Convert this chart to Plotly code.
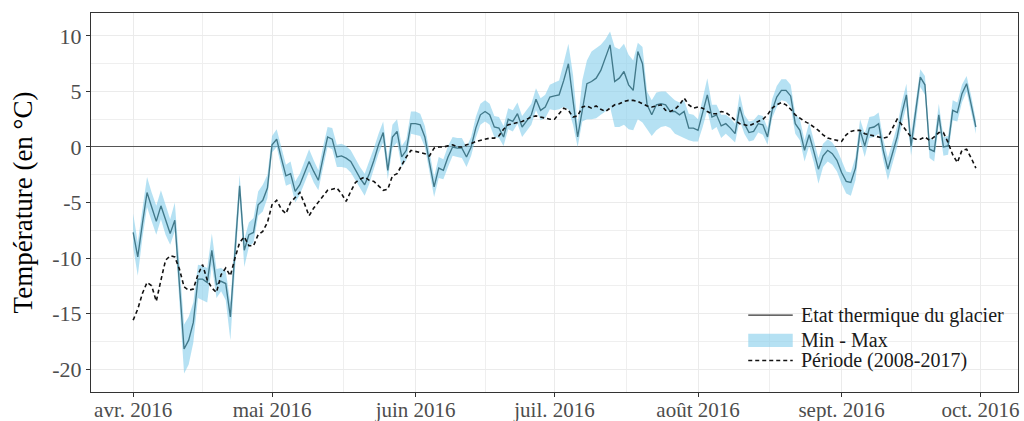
import pandas as pd
import plotly.graph_objects as go

# Daily series, 1 April -> 30 September 2016
start = "2016-04-01"
n_days = 183

temp_glacier = [
    -7.7, -9.9, -6.9, -4.1, -5.4, -6.7, -5.3, -6.6, -7.8, -6.6,
    -12.4, -18.2, -17.4, -15.8, -11.9, -11.9, -12.2, -9.3, -12.4, -12.1,
    -12.3, -15.3, -9.4, -3.5, -9.3, -7.9, -7.7, -5.2, -4.8, -3.7,
    0.2, 0.7, -1.0, -2.6, -2.4, -4.0, -3.4, -2.3, -1.3, -2.2,
    -3.0, -1.0, 0.9, 0.7, -0.9, -0.8, -1.0, -1.3, -2.1, -2.8,
    -3.4, -2.4, -1.2, 0.2, 1.3, -2.1, 0.9, 1.4, -0.9, -0.3,
    2.1, 2.1, 2.0, 0.9, -1.4, -3.6, -1.9, -2.1, -0.9, 0.0,
    -0.1, -0.1, -0.9, 0.0, 1.7, 2.9, 3.2, 2.9, 1.8, 1.7,
    0.9, 2.5, 2.3, 3.0, 1.8, 2.3, 2.9, 4.3, 3.3, 3.6,
    4.5, 4.6, 4.7, 6.0, 7.5, 4.2, 0.9, 3.3, 5.7, 5.9,
    6.2, 6.9, 8.1, 9.2, 5.9, 6.2, 6.8, 5.6, 5.1, 8.6,
    7.5, 3.8, 2.9, 3.8, 3.9, 3.8, 3.2, 3.2, 2.9, 3.2,
    1.7, 1.7, 1.5, 3.1, 4.7, 2.7, 2.9, 1.9, 2.1, 1.7,
    1.2, 3.6, 2.1, 1.3, 1.4, 2.1, 2.0, 0.9, 3.3, 4.5,
    5.1, 5.1, 4.6, 2.1, 1.5, -0.3, 1.1, -0.4, -2.0, -0.8,
    -0.3, -0.6, -1.2, -2.3, -3.1, -3.2, -1.9, 1.5, 0.1, 1.7,
    1.8, 2.1, -0.3, -2.0, -0.6, 0.9, 3.0, 4.7, 0.1, 3.0,
    6.3, 5.6, -0.2, -0.4, 2.9, 0.0, 0.1, 3.3, 3.1, 4.8,
    5.7, 3.8, 1.8,
]

temp_max = [
    -6.0, -8.6, -5.6, -2.7, -4.1, -5.3, -3.9, -5.2, -6.5, -5.0,
    -10.8, -16.0, -15.3, -14.0, -10.6, -10.7, -10.9, -7.8, -11.0, -10.9,
    -11.2, -14.0, -8.0, -2.5, -8.3, -6.8, -6.4, -4.0, -3.4, -2.5,
    1.0, 1.6, 0.0, -1.6, -1.3, -3.1, -2.4, -1.2, -0.2, -1.2,
    -2.1, 0.0, 1.8, 1.7, 0.2, 0.3, 0.1, -0.3, -1.1, -1.8,
    -2.4, -1.3, -0.1, 1.2, 2.3, -1.1, 2.0, 2.5, 0.1, 0.7,
    3.2, 3.2, 3.0, 1.9, -0.4, -2.7, -0.9, -1.1, 0.1, 0.9,
    0.8, 0.8, 0.0, 0.9, 2.7, 3.9, 4.2, 3.9, 2.8, 2.7,
    1.9, 3.5, 3.3, 4.0, 2.8, 3.3, 3.9, 5.3, 4.4, 4.7,
    5.6, 5.8, 6.0, 7.6, 9.3, 6.5, 2.0, 6.0, 7.8, 8.6,
    8.9, 9.2, 9.7, 10.4, 9.0, 8.8, 9.3, 8.3, 7.8, 9.4,
    9.0, 5.0, 4.2, 4.9, 5.0, 5.0, 4.6, 4.2, 4.0, 4.2,
    3.0, 2.9, 2.5, 4.3, 6.2, 3.8, 3.8, 2.9, 2.9, 2.6,
    2.1, 4.8, 2.9, 2.3, 2.4, 2.9, 2.8, 1.7, 4.3, 5.5,
    6.1, 6.1, 5.6, 3.0, 2.5, 0.6, 2.2, 0.6, -1.0, 0.3,
    0.7, 0.4, -0.2, -1.2, -2.2, -2.3, -0.9, 2.5, 1.2, 2.7,
    2.8, 3.1, 0.7, -1.0, 0.4, 1.9, 4.0, 5.7, 1.1, 4.0,
    7.0, 6.4, 0.8, 0.6, 3.9, 0.9, 1.0, 4.2, 4.0, 5.6,
    6.4, 4.6, 2.4,
]

temp_min = [
    -9.0, -11.6, -8.2, -5.4, -6.7, -7.9, -6.5, -7.9, -8.8, -7.6,
    -14.0, -20.4, -19.6, -17.6, -13.6, -13.8, -14.0, -10.6, -13.6, -13.0,
    -13.8, -17.4, -11.0, -4.6, -10.8, -9.0, -8.6, -6.2, -5.8, -4.6,
    -0.5, 0.0, -1.8, -3.5, -3.3, -5.0, -4.3, -3.2, -2.2, -3.2,
    -3.9, -1.9, 0.0, -0.2, -1.8, -1.8, -1.9, -2.3, -3.0, -3.7,
    -4.4, -3.3, -2.0, -0.6, 0.4, -2.9, -0.1, 0.4, -1.8, -1.2,
    1.2, 1.1, 1.0, 0.0, -2.4, -4.5, -2.8, -2.9, -1.8, -0.8,
    -0.9, -1.0, -1.8, -0.8, 0.8, 2.0, 2.3, 2.0, 0.9, 0.8,
    0.1, 1.6, 1.4, 2.1, 0.9, 1.4, 2.0, 3.3, 2.4, 2.6,
    3.4, 3.3, 3.4, 3.6, 3.4, 2.0, 0.0, 2.3, 2.5, 2.5,
    2.6, 2.9, 3.2, 3.6, 1.8, 1.8, 2.0, 1.6, 1.5, 2.5,
    2.2, 1.6, 1.0, 1.5, 1.8, 1.9, 1.7, 1.2, 1.0, 0.8,
    0.6, 0.5, 0.5, 1.8, 3.3, 1.5, 1.8, 0.8, 1.2, 0.8,
    0.4, 2.4, 1.2, 0.5, 0.6, 1.3, 1.1, 0.2, 2.6, 3.6,
    4.2, 4.1, 3.6, 1.2, 0.6, -1.3, 0.1, -1.4, -3.3, -1.8,
    -1.3, -1.6, -2.2, -3.3, -4.2, -4.4, -3.0, 0.6, -0.9, 0.8,
    0.9, 1.2, -1.2, -3.0, -1.5, 0.0, 2.0, 3.7, -0.8, 2.0,
    5.4, 4.7, -1.0, -1.3, 2.0, -0.8, -0.7, 2.4, 2.3, 4.0,
    5.0, 3.0, 1.2,
]

temp_periode = [
    -15.6, -14.6, -13.2, -12.2, -12.5, -13.9, -12.0, -10.2, -9.8, -9.9,
    -11.0, -12.6, -12.9, -12.8, -11.5, -10.6, -12.0, -12.7, -13.1, -11.5,
    -10.9, -11.6, -10.0, -8.6, -8.1, -8.9, -8.9, -7.9, -7.6, -6.8,
    -5.2, -4.8, -5.6, -6.0, -5.0, -4.5, -4.1, -5.1, -6.2, -5.5,
    -5.0, -4.5, -3.9, -3.8, -3.7, -4.2, -4.9, -4.0, -3.2, -2.9,
    -2.7, -3.0, -3.1, -3.5, -3.9, -3.8, -2.6, -2.4, -1.6, -0.9,
    -0.3, -0.4, -0.5, -0.6, -0.8, -0.1, 0.0, 0.0, 0.1, 0.2,
    0.0, 0.0, 0.2, 0.3, 0.5, 0.6, 0.7, 0.8, 0.8, 1.0,
    1.6, 2.0, 2.1, 2.2, 2.3, 2.5, 2.7, 2.8, 2.7, 2.6,
    2.5, 2.5, 3.0, 3.5, 3.3, 2.7, 2.8, 3.6, 3.7, 3.5,
    3.7, 3.4, 3.2, 3.5, 3.8, 3.9, 4.1, 4.2, 4.2, 4.1,
    3.9, 3.7, 3.6, 3.7, 3.8, 3.3, 3.2, 3.4, 3.8, 4.4,
    3.8, 3.5, 3.6, 3.5, 3.2, 3.0, 3.0, 3.2, 3.1, 2.8,
    2.4, 2.1, 2.0, 1.9, 2.1, 2.3, 2.5, 2.9, 3.5, 3.8,
    4.0, 3.8, 3.4, 2.9, 2.6, 2.3, 2.1, 1.8, 1.5, 1.1,
    0.8, 0.7, 0.6, 0.5, 1.1, 1.4, 1.5, 1.5, 1.2, 1.1,
    1.0, 0.9, 0.8, 0.9, 1.7, 2.5, 2.0, 1.4, 0.9, 0.7,
    0.7, 0.9, 0.6, 0.9, 1.3, 1.3, 0.4, -0.7, -1.4, -0.3,
    -0.2, -1.0, -1.9,
]

month_ticks = ["2016-04-01", "2016-05-01", "2016-06-01", "2016-07-01",
               "2016-08-01", "2016-09-01", "2016-10-01"]
month_labels = ["avr. 2016", "mai 2016", "juin 2016", "juil. 2016",
                "août 2016", "sept. 2016", "oct. 2016"]
y_ticks = [-20, -15, -10, -5, 0, 5, 10]
y_labels = ["-20", "-15", "-10", "-5", "0", "5", "10"]

legend_labels = ["Etat thermique du glacier", "Min - Max", "Période (2008-2017)"]

dates = pd.date_range(start, periods=n_days, freq="D")

# x range padded by 5 % of the data span on each side
span = dates[-1] - dates[0]
x_range = [dates[0] - 0.05 * span, dates[-1] + 0.05 * span]

# minor grid halfway between month breaks
tick_dt = pd.to_datetime(month_ticks)
minor_x = [tick_dt[i] + (tick_dt[i + 1] - tick_dt[i]) / 2 for i in range(len(tick_dt) - 1)]

FONT = "Liberation Serif"
BAND = "rgba(135,206,235,0.62)"
LINE_ON_BAND = "#42798a"
LINE_KEY = "#333333"
DASH = "4px,3px"

fig = go.Figure()

# min/max ribbon
fig.add_trace(go.Scatter(
    x=dates, y=temp_min, mode="lines", line=dict(width=0),
    showlegend=False, hoverinfo="skip",
))
fig.add_trace(go.Scatter(
    x=dates, y=temp_max, mode="lines", line=dict(width=0),
    fill="tonexty", fillcolor=BAND, name=legend_labels[1], showlegend=False,
))
# glacier thermal state
fig.add_trace(go.Scatter(
    x=dates, y=temp_glacier, mode="lines", name=legend_labels[0],
    line=dict(color=LINE_ON_BAND, width=1.35), showlegend=False,
))
# 2008-2017 reference period
fig.add_trace(go.Scatter(
    x=dates, y=temp_periode, mode="lines", name=legend_labels[2],
    line=dict(color="#111111", width=1.6, dash=DASH), showlegend=False,
))

# legend key drawn inside the panel, bottom right
key_x0, key_x1, text_x = 0.709, 0.757, 0.764
rows_y = [0.203, 0.138, 0.083]
shapes = [
    dict(type="line", xref="paper", yref="paper", x0=key_x0, x1=key_x1,
         y0=rows_y[0], y1=rows_y[0], line=dict(color=LINE_KEY, width=1.2)),
    dict(type="rect", xref="paper", yref="paper", x0=key_x0, x1=key_x1,
         y0=rows_y[1] - 0.019, y1=rows_y[1] + 0.016, fillcolor=BAND, line=dict(width=0)),
    dict(type="line", xref="paper", yref="paper", x0=key_x0, x1=key_x1,
         y0=rows_y[2], y1=rows_y[2], line=dict(color="#111111", width=1.6, dash=DASH)),
]
annotations = [
    dict(xref="paper", yref="paper", x=text_x, y=yy, text=lab, showarrow=False,
         xanchor="left", yanchor="middle",
         font=dict(family=FONT, size=20, color="#1a1a1a"))
    for lab, yy in zip(legend_labels, rows_y)
]

fig.update_layout(
    width=1024, height=421,
    margin=dict(l=91, r=6, t=13, b=29, autoexpand=False),
    paper_bgcolor="white", plot_bgcolor="white",
    font=dict(family=FONT, size=16, color="#1a1a1a"),
    showlegend=False,
    shapes=shapes,
    annotations=annotations,
)

fig.update_xaxes(
    range=x_range, type="date", automargin=False,
    tickmode="array", tickvals=month_ticks, ticktext=month_labels,
    tickfont=dict(family=FONT, size=21, color="#4d4d4d"),
    ticks="outside", ticklen=4, tickcolor="#333333", tickwidth=1,
    ticklabelstandoff=-5,
    showgrid=True, gridcolor="#ebebeb", gridwidth=1.2,
    minor=dict(tickmode="array", tickvals=minor_x, showgrid=True,
               gridcolor="#efefef", gridwidth=1),
    showline=True, linecolor="#333333", linewidth=1.2, mirror=True,
    zeroline=False,
)

fig.update_yaxes(
    range=[-22.07, 12.07], automargin=False,
    tickmode="array", tickvals=y_ticks, ticktext=y_labels,
    tickfont=dict(family=FONT, size=22, color="#4d4d4d"),
    ticks="outside", ticklen=4, tickcolor="#333333", tickwidth=1,
    showgrid=True, gridcolor="#ebebeb", gridwidth=1.2,
    minor=dict(dtick=2.5, tick0=0, showgrid=True, gridcolor="#efefef", gridwidth=1),
    showline=True, linecolor="#333333", linewidth=1.2, mirror=True,
    zeroline=True, zerolinecolor="#555555", zerolinewidth=1.4,
    title=dict(text="Température (en °C)", font=dict(family=FONT, size=27, color="#000000"),
               standoff=11),
)

fig.write_html("out.html")
